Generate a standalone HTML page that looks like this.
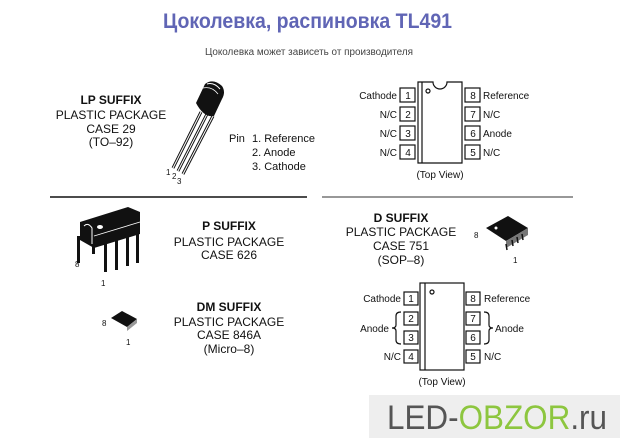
<!DOCTYPE html>
<html><head><meta charset="utf-8"><style>
html,body{margin:0;padding:0;background:#fff;}
svg{display:block;font-family:"Liberation Sans","DejaVu Sans",sans-serif;}
</style></head><body>
<svg width="620" height="438" viewBox="0 0 620 438" xmlns="http://www.w3.org/2000/svg">
<rect width="620" height="438" fill="#fff"/>
<text x="163" y="28" font-size="21" font-weight="bold" fill="#6065b5" textLength="289" lengthAdjust="spacingAndGlyphs">Цоколевка, распиновка TL491</text>
<text x="205" y="55" font-size="10" fill="#444" textLength="208" lengthAdjust="spacingAndGlyphs">Цоколевка может зависеть от производителя</text>

<!-- LP suffix -->
<g font-size="12" fill="#111" text-anchor="middle">
<text x="111" y="104" font-weight="bold">LP SUFFIX</text>
<text x="111" y="119">PLASTIC PACKAGE</text>
<text x="111" y="133">CASE 29</text>
<text x="111" y="146">(TO–92)</text>
</g>
<!-- TO-92 -->
<g stroke="#111" fill="none">
<line x1="201" y1="112" x2="173" y2="168" stroke-width="3"/>
<line x1="207" y1="114" x2="178" y2="171" stroke-width="3"/>
<line x1="213" y1="116" x2="183" y2="174" stroke-width="3"/>
<line x1="201" y1="112" x2="173" y2="168" stroke="#fff" stroke-width="1"/>
<line x1="207" y1="114" x2="178" y2="171" stroke="#fff" stroke-width="1"/>
<line x1="213" y1="116" x2="183" y2="174" stroke="#fff" stroke-width="1"/>
</g>
<path d="M196 103 L205 84 Q213 78 222 86 Q226 92 222 99 L214 116 Q204 118 196 103 Z" fill="#111"/>
<path d="M207 84 Q214 82 220 89" stroke="#fff" stroke-width="1" fill="none"/>
<path d="M203 88 Q212 86 218 94" stroke="#fff" stroke-width="0.8" fill="none"/>
<g font-size="8" fill="#111"><text x="166" y="175">1</text><text x="172" y="179">2</text><text x="177" y="184">3</text></g>
<g font-size="11" fill="#111">
<text x="229" y="142">Pin</text>
<text x="252" y="142">1.  Reference</text>
<text x="252" y="156">2.  Anode</text>
<text x="252" y="170">3.  Cathode</text>
</g>

<!-- top DIP -->
<g stroke="#111" fill="#fff" stroke-width="1.2">
<path d="M418 82 H433 A7 7 0 0 0 447 82 H462 V163 H418 Z"/>
<line x1="422" y1="82" x2="422" y2="163"/>
<rect x="400" y="88" width="15" height="14"/><rect x="400" y="107" width="15" height="14"/><rect x="400" y="126" width="15" height="14"/><rect x="400" y="145" width="15" height="14"/>
<rect x="465" y="88" width="15" height="14"/><rect x="465" y="107" width="15" height="14"/><rect x="465" y="126" width="15" height="14"/><rect x="465" y="145" width="15" height="14"/>
<circle cx="428" cy="91" r="2"/>
</g>
<g font-size="10" fill="#111">
<g text-anchor="middle"><text x="408" y="99">1</text><text x="408" y="118">2</text><text x="408" y="137">3</text><text x="408" y="156">4</text>
<text x="473" y="99">8</text><text x="473" y="118">7</text><text x="473" y="137">6</text><text x="473" y="156">5</text>
<text x="440" y="178">(Top View)</text></g>
<g text-anchor="end"><text x="397" y="99">Cathode</text><text x="397" y="118">N/C</text><text x="397" y="137">N/C</text><text x="397" y="156">N/C</text></g>
<text x="483" y="99">Reference</text><text x="483" y="118">N/C</text><text x="483" y="137">Anode</text><text x="483" y="156">N/C</text>
</g>

<line x1="50" y1="197" x2="307" y2="197" stroke="#111" stroke-width="1.5"/>
<line x1="322" y1="197" x2="573" y2="197" stroke="#777" stroke-width="1.5"/>

<!-- P DIP -->
<g fill="#111">
<path d="M80 222 L128 207 L140 212 L140 234 L94 248 L80 240 Z"/>
<rect x="77" y="236" width="3" height="27"/><rect x="92" y="246" width="3" height="8"/>
<rect x="104" y="240" width="3" height="32"/><rect x="115" y="237" width="3" height="33"/><rect x="126" y="233" width="3" height="33"/><rect x="136" y="230" width="3" height="33"/>
</g>
<path d="M84 226 Q88 222 92 228 L92 244" stroke="#fff" fill="none" stroke-width="1"/>
<ellipse cx="100" cy="227" rx="3" ry="2" fill="#fff"/>
<path d="M94 236 L140 222" stroke="#fff" stroke-width="0.8"/>
<g font-size="8" fill="#111"><text x="75" y="267">8</text><text x="101" y="286">1</text></g>
<g font-size="12" fill="#111" text-anchor="middle">
<text x="229" y="230" font-weight="bold">P SUFFIX</text>
<text x="229" y="246">PLASTIC PACKAGE</text>
<text x="229" y="259">CASE 626</text>
<text x="229" y="311" font-weight="bold">DM SUFFIX</text>
<text x="229" y="326">PLASTIC PACKAGE</text>
<text x="229" y="339">CASE 846A</text>
<text x="229" y="353">(Micro–8)</text>
<text x="401" y="222" font-weight="bold">D SUFFIX</text>
<text x="401" y="236">PLASTIC PACKAGE</text>
<text x="401" y="250">CASE 751</text>
<text x="401" y="264">(SOP–8)</text>
</g>
<!-- DM small -->
<path d="M111 318 L122 311 L137 319 L127 327 Z" fill="#111"/>
<path d="M127 327 L137 319 L137 323 L127 331 Z" fill="#999"/>
<g font-size="8" fill="#111"><text x="102" y="326">8</text><text x="126" y="345">1</text></g>
<!-- SOP -->
<path d="M486 228 L508 216 L528 228 L506 241 Z" fill="#111"/>
<path d="M506 241 L528 228 L528 235 L506 248 Z" fill="#777"/>
<g stroke="#111" stroke-width="1.5"><line x1="506" y1="244" x2="507" y2="250"/><line x1="512" y1="240" x2="513" y2="246"/><line x1="517" y1="237" x2="518" y2="243"/><line x1="522" y1="234" x2="523" y2="240"/></g>
<circle cx="496" cy="228" r="1.5" fill="#fff"/>
<g font-size="8" fill="#111"><text x="474" y="238">8</text><text x="513" y="263">1</text></g>

<!-- bottom DIP -->
<g stroke="#111" fill="#fff" stroke-width="1.2">
<rect x="420" y="283" width="44" height="87"/>
<line x1="425" y1="283" x2="425" y2="370"/>
<rect x="404" y="292" width="14" height="13"/><rect x="404" y="312" width="14" height="13"/><rect x="404" y="331" width="14" height="13"/><rect x="404" y="350" width="14" height="13"/>
<rect x="466" y="292" width="14" height="13"/><rect x="466" y="312" width="14" height="13"/><rect x="466" y="331" width="14" height="13"/><rect x="466" y="350" width="14" height="13"/>
<circle cx="432" cy="292" r="2"/>
<path d="M401 312 Q396 312 396 316 V325 Q396 328 392 328 Q396 328 396 331 V340 Q396 344 401 344" fill="none"/>
<path d="M484 312 Q489 312 489 316 V325 Q489 328 493 328 Q489 328 489 331 V340 Q489 344 484 344" fill="none"/>
</g>
<g font-size="10" fill="#111">
<g text-anchor="middle"><text x="411" y="302">1</text><text x="411" y="322">2</text><text x="411" y="341">3</text><text x="411" y="360">4</text>
<text x="473" y="302">8</text><text x="473" y="322">7</text><text x="473" y="341">6</text><text x="473" y="360">5</text>
<text x="442" y="385">(Top View)</text></g>
<g text-anchor="end"><text x="401" y="302">Cathode</text><text x="389" y="332">Anode</text><text x="401" y="360">N/C</text></g>
<text x="484" y="302">Reference</text><text x="495" y="332">Anode</text><text x="484" y="360">N/C</text>
</g>

<!-- watermark -->
<rect x="369" y="395" width="251" height="43" fill="#eeeeee"/>
<text x="387" y="429" font-size="34" textLength="220" lengthAdjust="spacingAndGlyphs" fill="#555"><tspan>LED-</tspan><tspan fill="#8dc63f">OBZOR</tspan><tspan>.ru</tspan></text>
</svg>
</body></html>
